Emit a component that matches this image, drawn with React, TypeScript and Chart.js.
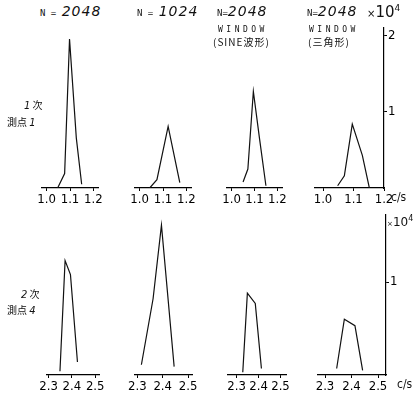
import React, { useEffect, useRef } from "react";
import { Chart, registerables } from "chart.js";

Chart.register(...registerables);

// ---- Data (frequency in c/s, amplitude in x10^4) ----
const t1X = [1.047, 1.077, 1.098, 1.127, 1.15];
const t1Y = [0.0, 0.19, 1.96, 0.66, 0.05];
const t2X = [1.043, 1.074, 1.122, 1.172];
const t2Y = [0.0, 0.11, 0.81, 0.07];
const t3X = [1.05, 1.071, 1.095, 1.122, 1.15];
const t3Y = [0.08, 0.25, 1.27, 0.65, 0.03];
const t4X = [1.048, 1.07, 1.096, 1.129, 1.152];
const t4Y = [0.03, 0.16, 0.84, 0.43, 0.0];

const b1X = [2.349, 2.371, 2.394, 2.424];
const b1Y = [0.04, 1.23, 1.08, 0.14];
const b2X = [2.316, 2.362, 2.395, 2.445];
const b2Y = [0.11, 0.82, 1.61, 0.09];
const b3X = [2.328, 2.349, 2.385, 2.413];
const b3Y = [0.03, 0.88, 0.77, 0.07];
const b4X = [2.344, 2.373, 2.413, 2.442];
const b4Y = [0.07, 0.6, 0.53, 0.05];

const topXTicks = [1.0, 1.1, 1.2];
const bottomXTicks = [2.3, 2.4, 2.5];
const topYTicks = [1, 2];
const bottomYTicks = [1];

const TICK_FONT = '"Liberation Sans Narrow", "DejaVu Sans Condensed", "Liberation Sans", sans-serif';
const MONO = '"DejaVu Sans Mono", "Liberation Mono", monospace';
const HAND = '"DejaVu Sans", "Liberation Sans", sans-serif';
const CJK = '"Noto Sans CJK JP", "Noto Sans CJK SC", sans-serif';

type Row = { top: number; bottom: number; ppu: number; yTicks: number[] };
const ROWS: Row[] = [
  { top: 28, bottom: 188, ppu: 76, yTicks: topYTicks },
  { top: 215, bottom: 375, ppu: 93, yTicks: bottomYTicks },
];

type Panel = {
  xs: number[];
  ys: number[];
  ticks: number[];
  row: number;
  left: number;
  right: number;
  tick0Px: number;
  ppu: number;
  yAxis: boolean;
};

const PANELS: Panel[] = [
  { xs: t1X, ys: t1Y, ticks: topXTicks, row: 0, left: 42, right: 114, tick0Px: 48, ppu: 300, yAxis: false },
  { xs: t2X, ys: t2Y, ticks: topXTicks, row: 0, left: 135, right: 207, tick0Px: 141, ppu: 300, yAxis: false },
  { xs: t3X, ys: t3Y, ticks: topXTicks, row: 0, left: 227, right: 298, tick0Px: 233, ppu: 295, yAxis: false },
  { xs: t4X, ys: t4Y, ticks: topXTicks, row: 0, left: 315, right: 384, tick0Px: 323, ppu: 305, yAxis: true },
  { xs: b1X, ys: b1Y, ticks: bottomXTicks, row: 1, left: 47, right: 115, tick0Px: 49, ppu: 305, yAxis: false },
  { xs: b2X, ys: b2Y, ticks: bottomXTicks, row: 1, left: 135, right: 208, tick0Px: 138, ppu: 325, yAxis: false },
  { xs: b3X, ys: b3Y, ticks: bottomXTicks, row: 1, left: 228, right: 302, tick0Px: 239, ppu: 280, yAxis: false },
  { xs: b4X, ys: b4Y, ticks: bottomXTicks, row: 1, left: 318, right: 386, tick0Px: 325, ppu: 265, yAxis: true },
];

const PADX = 10;
const PADT = 4;
const XH = 22;
const YW = 16;

function PanelChart({ p }: { p: Panel }) {
  const ref = useRef<HTMLCanvasElement>(null);
  const row = ROWS[p.row];
  const w = p.right - p.left + PADX + (p.yAxis ? YW : PADX);
  const h = row.bottom - row.top + PADT + XH;

  useEffect(() => {
    const xmin = p.ticks[0] + (p.left - p.tick0Px) / p.ppu;
    const xmax = p.ticks[0] + (p.right - p.tick0Px) / p.ppu;
    const ymax = (row.bottom - row.top) / row.ppu;
    const chart = new Chart(ref.current as HTMLCanvasElement, {
      type: "line",
      data: {
        datasets: [
          {
            data: p.xs.map((x, i) => ({ x, y: p.ys[i] })),
            borderColor: "#111",
            borderWidth: 1.2,
            pointRadius: 0,
            tension: 0,
            fill: false,
          },
        ],
      },
      options: {
        animation: false,
        responsive: false,
        maintainAspectRatio: false,
        events: [],
        layout: { padding: { left: PADX, right: p.yAxis ? 0 : PADX, top: PADT, bottom: 0 } },
        plugins: { legend: { display: false }, tooltip: { enabled: false } },
        scales: {
          x: {
            type: "linear",
            min: xmin,
            max: xmax,
            afterBuildTicks: (s: any) => {
              s.ticks = p.ticks.map((v) => ({ value: v }));
            },
            afterFit: (s: any) => {
              s.height = XH;
              s.paddingLeft = 0;
              s.paddingRight = 0;
            },
            grid: { display: true, drawOnChartArea: false, drawTicks: true, tickLength: 3, color: "#000" },
            border: { display: true, color: "#000", width: 1.2 },
            ticks: {
              color: "#000",
              padding: 1,
              maxRotation: 0,
              autoSkip: false,
              font: { family: TICK_FONT, size: 13 },
              callback: (v: any) => Number(v).toFixed(1),
            },
          },
          y: {
            type: "linear",
            min: 0,
            max: ymax,
            position: "right",
            display: p.yAxis,
            afterBuildTicks: (s: any) => {
              s.ticks = row.yTicks.map((v) => ({ value: v }));
            },
            afterFit: (s: any) => {
              s.width = YW;
              s.paddingTop = 0;
              s.paddingBottom = 0;
            },
            grid: { drawOnChartArea: false, drawTicks: true, tickLength: 3, color: "#000" },
            border: { display: true, color: "#000", width: 1.2 },
            ticks: {
              color: "#000",
              padding: 1,
              font: { family: TICK_FONT, size: 13 },
              callback: (v: any) => String(v),
            },
          },
        },
      },
    } as any);
    return () => chart.destroy();
  }, []);

  return (
    <canvas
      ref={ref}
      width={w}
      height={h}
      style={{ position: "absolute", left: p.left - PADX, top: row.top - PADT, width: w, height: h }}
    />
  );
}

function T({ x, y, size, children, style }: { x: number; y: number; size: number; children: any; style?: any }) {
  return (
    <div
      style={{
        position: "absolute",
        left: x,
        top: y,
        fontSize: size,
        lineHeight: 1,
        whiteSpace: "nowrap",
        color: "#111",
        ...style,
      }}
    >
      {children}
    </div>
  );
}

function NHeader({ x, n, spaced }: { x: number; n: string; spaced: boolean }) {
  return (
    <T x={x} y={4} size={14}>
      <span style={{ fontFamily: MONO, fontSize: 9 }}>{spaced ? "N = " : "N="}</span>
      <span style={{ fontFamily: HAND, fontStyle: "italic", letterSpacing: 1 }}>{n}</span>
    </T>
  );
}

export default function App() {
  return (
    <div style={{ position: "absolute", left: 0, top: 0, width: 414, height: 397, background: "#fff", overflow: "hidden" }}>
      {PANELS.map((p, i) => (
        <PanelChart key={i} p={p} />
      ))}
      <NHeader x={40} n="2048" spaced={true} />
      <NHeader x={137} n="1024" spaced={true} />
      <NHeader x={217} n="2048" spaced={false} />
      <NHeader x={307} n="2048" spaced={false} />
      <T x={218} y={26} size={8} style={{ fontFamily: MONO, letterSpacing: 3.5 }}>WINDOW</T>
      <T x={309} y={26} size={8} style={{ fontFamily: MONO, letterSpacing: 3.5 }}>WINDOW</T>
      <T x={213} y={37} size={10} style={{ fontFamily: CJK, letterSpacing: 1 }}>(SINE波形)</T>
      <T x={308} y={37} size={10} style={{ fontFamily: CJK, letterSpacing: 1 }}>(三角形)</T>
      <T x={367} y={4} size={15} style={{ fontFamily: HAND }}>
        <span style={{ fontSize: 10 }}>×</span>10<sup style={{ fontSize: 9, verticalAlign: 6 }}>4</sup>
      </T>
      <T x={387} y={215} size={12} style={{ fontFamily: HAND }}>
        <span style={{ fontSize: 7 }}>×</span>10<sup style={{ fontSize: 8, verticalAlign: 5 }}>4</sup>
      </T>
      <T x={24} y={100} size={10} style={{ fontFamily: CJK }}>
        <span style={{ fontStyle: "italic", fontFamily: HAND }}>1</span> 次
      </T>
      <T x={7} y={117} size={10} style={{ fontFamily: CJK }}>
        測点 <span style={{ fontStyle: "italic", fontFamily: HAND }}>1</span>
      </T>
      <T x={21} y={289} size={10} style={{ fontFamily: CJK }}>
        <span style={{ fontStyle: "italic", fontFamily: HAND }}>2</span> 次
      </T>
      <T x={7} y={305} size={10} style={{ fontFamily: CJK }}>
        測点 <span style={{ fontStyle: "italic", fontFamily: HAND }}>4</span>
      </T>
      <T x={391} y={191} size={12} style={{ fontFamily: TICK_FONT }}>c/s</T>
      <T x={397} y={378} size={12} style={{ fontFamily: TICK_FONT }}>c/s</T>
    </div>
  );
}
